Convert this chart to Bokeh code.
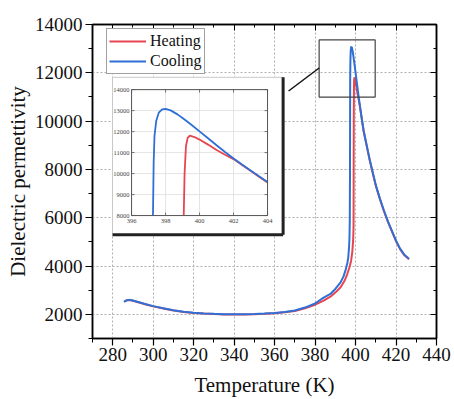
import math
from bokeh.plotting import figure
from bokeh.models import (Range1d, LinearAxis, FixedTicker, Legend, LegendItem,
                          BoxAnnotation, Arrow, CustomJSTickFormatter)
from bokeh.core.properties import value
from bokeh.embed import file_html
from bokeh.resources import INLINE

# ---------------- data ----------------
COOL_T = [285.5, 286.5, 288, 290, 293, 296, 300, 305, 310, 315, 320, 325, 330, 335,
          340, 345, 350, 355, 360, 365, 370, 375, 380, 384, 387.6, 390, 392.6, 394,
          395, 396, 396.4, 396.8, 397.0, 397.15, 397.26, 397.3, 397.35, 397.45, 397.6,
          397.8, 398.0, 398.3, 398.7, 399.0, 399.5, 400, 400.5, 401, 401.5, 402, 402.5,
          403, 403.5, 404, 405, 406, 407, 408, 409, 410, 412, 414, 416, 418, 420, 422,
          424, 426.3]
COOL_E = [2520, 2570, 2600, 2570, 2500, 2430, 2340, 2250, 2170, 2110, 2070, 2040, 2020, 2005,
          2000, 2000, 2010, 2030, 2060, 2100, 2160, 2280, 2450, 2680, 2843, 3050, 3324, 3560,
          3810, 4150, 4360, 4800, 5190, 5900, 8000, 10500, 11800, 12500, 12900,
          13060, 13080, 13010, 12820, 12650, 12340, 12010, 11680, 11350, 11030, 10720, 10430,
          10150, 9870, 9600, 9200, 8800, 8400, 8050, 7700, 7350, 6800, 6300, 5850, 5450, 5050, 4720,
          4480, 4300]

HEAT_T = [286, 287, 288, 290, 293, 296, 300, 305, 310, 315, 320, 325, 330, 335,
          340, 345, 350, 355, 360, 365, 370, 375, 380, 384, 387.6, 390, 392.6, 394.5,
          395.9, 397, 397.8, 398.4, 398.8, 399.0, 399.07, 399.12, 399.2, 399.3, 399.43,
          399.7, 400, 400.5, 401, 401.5, 402, 402.5, 403, 403.5, 404, 405, 406, 407, 408,
          409, 410, 412, 414, 416, 418, 420, 422, 424, 426.5]
HEAT_E = [2540, 2580, 2590, 2560, 2490, 2420, 2330, 2240, 2160, 2100, 2060, 2030, 2010, 1995,
          1990, 1990, 2000, 2020, 2050, 2090, 2140, 2250, 2400, 2560, 2730, 2900, 3120, 3380,
          3670, 3950, 4220, 4600, 5050, 5600, 8000, 10000, 11300, 11700, 11810,
          11740, 11620, 11380, 11120, 10900, 10690, 10410, 10130, 9850, 9580, 9180, 8780, 8380, 8030,
          7680, 7330, 6780, 6280, 5830, 5430, 5030, 4700, 4460, 4280]

SERIES = ["Heating", "Cooling"]

X_TICKS = [280, 300, 320, 340, 360, 380, 400, 420, 440]
X_MINOR = [270, 290, 310, 330, 350, 370, 390, 410, 430]
Y_TICKS = [2000, 4000, 6000, 8000, 10000, 12000, 14000]
Y_MINOR = [1000, 3000, 5000, 7000, 9000, 11000, 13000]

INS_X_TICKS = [396, 398, 400, 402, 404]
INS_X_LABELS = ["396", "398", "400", "402", "404"]
INS_Y_TICKS = [8000, 9000, 10000, 11000, 12000, 13000, 14000]
INS_Y_LABELS = ["8000", "9000", "10000", "11000", "12000", "13000", "14000"]

# ---------------- layout constants (main data coords) ----------------
INS_RANGE_X = (396, 404)
INS_RANGE_Y = (8000, 14000)
INS_AREA = (289.3, 356.5, 6090, 11304)      # left, right, bottom, top
INS_BOX = (279.9, 364.2, 5298, 11814)
ZOOM_BOX = (382.0, 409.7, 10997, 13361)
CONNECT = (366.9, 11246, 382.0, 12200)

FONT = "Liberation Serif"
RED = "#e5464f"
BLUE = "#2f6fd6"

p = figure(width=454, height=399, output_backend="svg", toolbar_location=None,
           x_range=Range1d(270, 440), y_range=Range1d(1000, 14000),
           min_border_left=92, min_border_right=18, min_border_top=24,
           min_border_bottom=61)
p.outline_line_color = "black"
p.outline_line_width = 1.5
p.background_fill_color = "white"
p.border_fill_color = "white"

xt = FixedTicker(ticks=X_TICKS, minor_ticks=X_MINOR)
yt = FixedTicker(ticks=Y_TICKS, minor_ticks=Y_MINOR)

for ax, tk in ((p.xaxis[0], xt), (p.yaxis[0], yt)):
    ax.ticker = tk
    ax.axis_line_color = "black"
    ax.axis_line_width = 1.5
    ax.major_tick_line_color = "black"
    ax.minor_tick_line_color = "black"
    ax.major_tick_line_width = 1.2
    ax.major_tick_out = 7
    ax.major_tick_in = 0
    ax.minor_tick_out = 4
    ax.minor_tick_in = 0
    ax.major_label_text_font = FONT
    ax.major_label_text_font_size = "19px"
    ax.major_label_text_color = "#111111"
    ax.axis_label_text_font = FONT
    ax.axis_label_text_font_size = "21px"
    ax.axis_label_text_font_style = "normal"
    ax.axis_label_text_color = "#111111"

p.xaxis[0].axis_label = "Temperature (K)"
p.xaxis[0].major_label_standoff = 2
p.xaxis[0].axis_label_standoff = 9
p.yaxis[0].axis_label = "Dielectric permettivity"
p.yaxis[0].major_label_standoff = 3
p.yaxis[0].axis_label_standoff = 2

blank = CustomJSTickFormatter(code="return ''")
top_ax = LinearAxis(ticker=FixedTicker(ticks=X_TICKS, minor_ticks=X_MINOR), formatter=blank,
                    major_tick_in=6, major_tick_out=0, minor_tick_in=3, minor_tick_out=0,
                    major_label_standoff=0, axis_line_width=1.5)
right_ax = LinearAxis(ticker=FixedTicker(ticks=Y_TICKS, minor_ticks=Y_MINOR), formatter=blank,
                      major_tick_in=6, major_tick_out=0, minor_tick_in=3, minor_tick_out=0,
                      major_label_standoff=0, axis_line_width=1.5)
p.add_layout(top_ax, "above")
p.add_layout(right_ax, "right")

for g in (p.xgrid[0], p.ygrid[0]):
    g.grid_line_color = "#b0b0b0"
    g.grid_line_dash = "2 2"
    g.grid_line_width = 1

# main curves
r_heat = p.line(HEAT_T, HEAT_E, color=RED, line_width=2)
r_cool = p.line(COOL_T, COOL_E, color=BLUE, line_width=2)

# ---------------- inset ----------------
bg = BoxAnnotation(left=INS_BOX[0], right=INS_BOX[1], bottom=INS_BOX[2], top=INS_BOX[3],
                   fill_color="white", fill_alpha=1, line_color="#c8c8c8", line_alpha=1,
                   line_width=1, level="underlay")
p.add_layout(bg)
# shadow-like thick right / bottom edges
p.segment(x0=[INS_BOX[0], INS_BOX[1]], y0=[INS_BOX[2], INS_BOX[2]],
          x1=[INS_BOX[1], INS_BOX[1]], y1=[INS_BOX[2], INS_BOX[3]],
          line_color="#222222", line_width=3)

ins = p.subplot(x_source=Range1d(*INS_RANGE_X), y_source=Range1d(*INS_RANGE_Y),
                x_target=Range1d(INS_AREA[0], INS_AREA[1]),
                y_target=Range1d(INS_AREA[2], INS_AREA[3]))

# inset grid
ins.segment(x0=INS_X_TICKS, y0=[INS_RANGE_Y[0]] * len(INS_X_TICKS),
            x1=INS_X_TICKS, y1=[INS_RANGE_Y[1]] * len(INS_X_TICKS),
            line_color="#dddddd", line_width=0.8)
ins.segment(x0=[INS_RANGE_X[0]] * len(INS_Y_TICKS), y0=INS_Y_TICKS,
            x1=[INS_RANGE_X[1]] * len(INS_Y_TICKS), y1=INS_Y_TICKS,
            line_color="#dddddd", line_width=0.8)

# inset curves (points inside the inset window)
hc = [(t, e) for t, e in zip(HEAT_T, HEAT_E)
      if INS_RANGE_X[0] <= t <= INS_RANGE_X[1] and e >= INS_RANGE_Y[0]]
cc = [(t, e) for t, e in zip(COOL_T, COOL_E)
      if INS_RANGE_X[0] <= t <= INS_RANGE_X[1] and e >= INS_RANGE_Y[0]]
ins.line([a for a, b in hc], [b for a, b in hc], color=RED, line_width=1.8)
ins.line([a for a, b in cc], [b for a, b in cc], color=BLUE, line_width=1.8)

# inset frame
ins.quad(left=[INS_RANGE_X[0]], right=[INS_RANGE_X[1]],
         bottom=[INS_RANGE_Y[0]], top=[INS_RANGE_Y[1]],
         fill_color=None, line_color="#555555", line_width=1)

# inset ticks
nx, ny = len(INS_X_TICKS), len(INS_Y_TICKS)
ins.ray(x=INS_X_TICKS, y=[INS_RANGE_Y[0]] * nx, length=3, length_units="screen",
        angle=math.pi / 2, line_color="#555555", line_width=0.8)
ins.ray(x=INS_X_TICKS, y=[INS_RANGE_Y[1]] * nx, length=3, length_units="screen",
        angle=-math.pi / 2, line_color="#555555", line_width=0.8)
ins.ray(x=[INS_RANGE_X[0]] * ny, y=INS_Y_TICKS, length=3, length_units="screen",
        angle=0, line_color="#555555", line_width=0.8)
ins.ray(x=[INS_RANGE_X[1]] * ny, y=INS_Y_TICKS, length=3, length_units="screen",
        angle=math.pi, line_color="#555555", line_width=0.8)

# inset tick labels
ins.text(x=INS_X_TICKS, y=[INS_RANGE_Y[0]] * nx, text=INS_X_LABELS,
         y_offset=3, text_align="center", text_baseline="top",
         text_font=value(FONT), text_font_size="6.5px", text_color="#444444")
ins.text(x=[INS_RANGE_X[0]] * ny, y=INS_Y_TICKS, text=INS_Y_LABELS,
         x_offset=-2, text_align="right", text_baseline="middle",
         text_font=value(FONT), text_font_size="6.5px", text_color="#444444")

# zoom box and connector
zb = BoxAnnotation(left=ZOOM_BOX[0], right=ZOOM_BOX[1], bottom=ZOOM_BOX[2], top=ZOOM_BOX[3],
                   fill_color=None, fill_alpha=0, line_color="#444444", line_alpha=1,
                   line_width=1.2)
p.add_layout(zb)
p.add_layout(Arrow(end=None, x_start=CONNECT[0], y_start=CONNECT[1],
                   x_end=CONNECT[2], y_end=CONNECT[3],
                   line_color="#111111", line_width=1.5))

# legend
legend = Legend(items=[LegendItem(label=SERIES[0], renderers=[r_heat]),
                       LegendItem(label=SERIES[1], renderers=[r_cool])],
                location=(14, 264), orientation="vertical",
                border_line_color="#444444", border_line_width=1,
                background_fill_color="white", background_fill_alpha=1,
                padding=2, spacing=0, margin=0,
                glyph_width=37, glyph_height=20, label_height=20, label_standoff=4,
                label_text_font=FONT, label_text_font_size="16px",
                label_text_color="#111111")
p.add_layout(legend)

open("out.html", "w").write(file_html(p, INLINE))
